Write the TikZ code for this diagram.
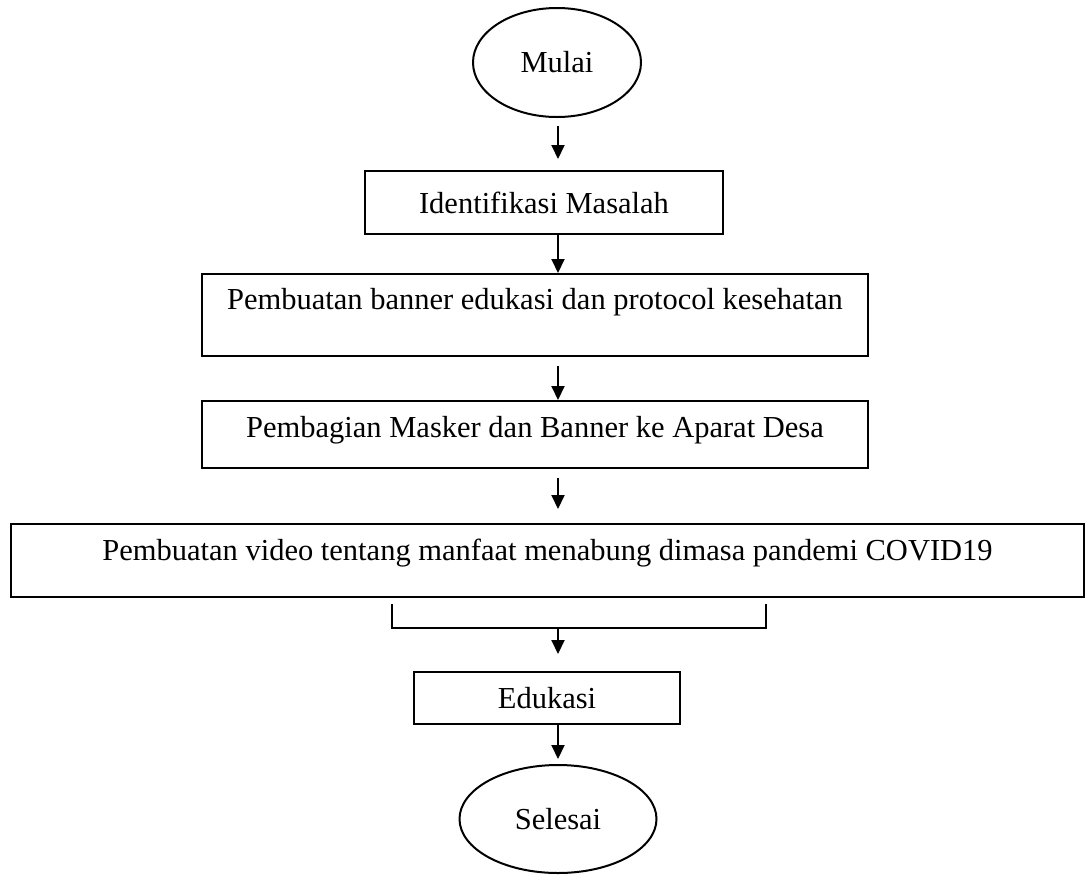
\documentclass[tikz,border=0pt]{standalone}
\usepackage{fontspec}
\setmainfont{Liberation Serif}
\usetikzlibrary{shapes.geometric,arrows.meta}
\begin{document}
\begin{tikzpicture}[x=1pt,y=-1pt,
    every node/.style={font=\fontsize{30.5}{36}\selectfont},
    kotak/.style={draw,rectangle,line width=2pt,inner sep=0pt},
    terminal/.style={draw,ellipse,line width=2pt,inner sep=0pt},
    garis/.style={line width=2pt},
    panah/.style={line width=2pt,-{Triangle[length=14pt,width=13pt]}}]
  \useasboundingbox (0,0) rectangle (1087,876);
  \coordinate (sumbu) at (558,0);
  \node[terminal, minimum width=168, minimum height=109] (mulai) at (557,62.5) {Mulai};
  \node[kotak, minimum width=358, minimum height=63] (identifikasi) at (544,202.5) {Identifikasi Masalah};
  \node[kotak, minimum width=666, minimum height=82, text depth=32pt] (banner) at (535,315) {Pembuatan banner edukasi dan protocol kesehatan};
  \node[kotak, minimum width=666, minimum height=67, text depth=15pt] (masker) at (535,434.5) {Pembagian Masker dan Banner ke Aparat Desa};
  \node[kotak, minimum width=1073, minimum height=73, text depth=21pt] (video) at (547.5,560.5) {Pembuatan video tentang manfaat menabung dimasa pandemi COVID19};
  \node[kotak, minimum width=266, minimum height=52] (edukasi) at (547,698) {Edukasi};
  \node[terminal, minimum width=197, minimum height=108] (selesai) at (558,819) {Selesai};
  \coordinate (kiri) at (392,628);
  \coordinate (kanan) at (766,628);
  \coordinate (gabung) at (558,628);
  \draw[panah, shorten <=8pt, shorten >=11pt] (mulai.south -| sumbu) -- (identifikasi.north -| sumbu);
  \draw[panah] (identifikasi.south -| sumbu) -- (banner.north -| sumbu);
  \draw[panah, shorten <=9pt] (banner.south -| sumbu) -- (masker.north -| sumbu);
  \draw[panah, shorten <=9pt, shorten >=14pt] (masker.south -| sumbu) -- (video.north -| sumbu);
  \draw[garis, shorten <=6pt, shorten >=6pt] (kiri |- video.south) -- (kiri) -- (kanan) -- (kanan |- video.south);
  \draw[panah, shorten >=17pt] (gabung) -- (edukasi.north -| sumbu);
  \draw[panah, shorten >=5pt] (edukasi.south -| sumbu) -- (selesai.north);
\end{tikzpicture}
\end{document}
